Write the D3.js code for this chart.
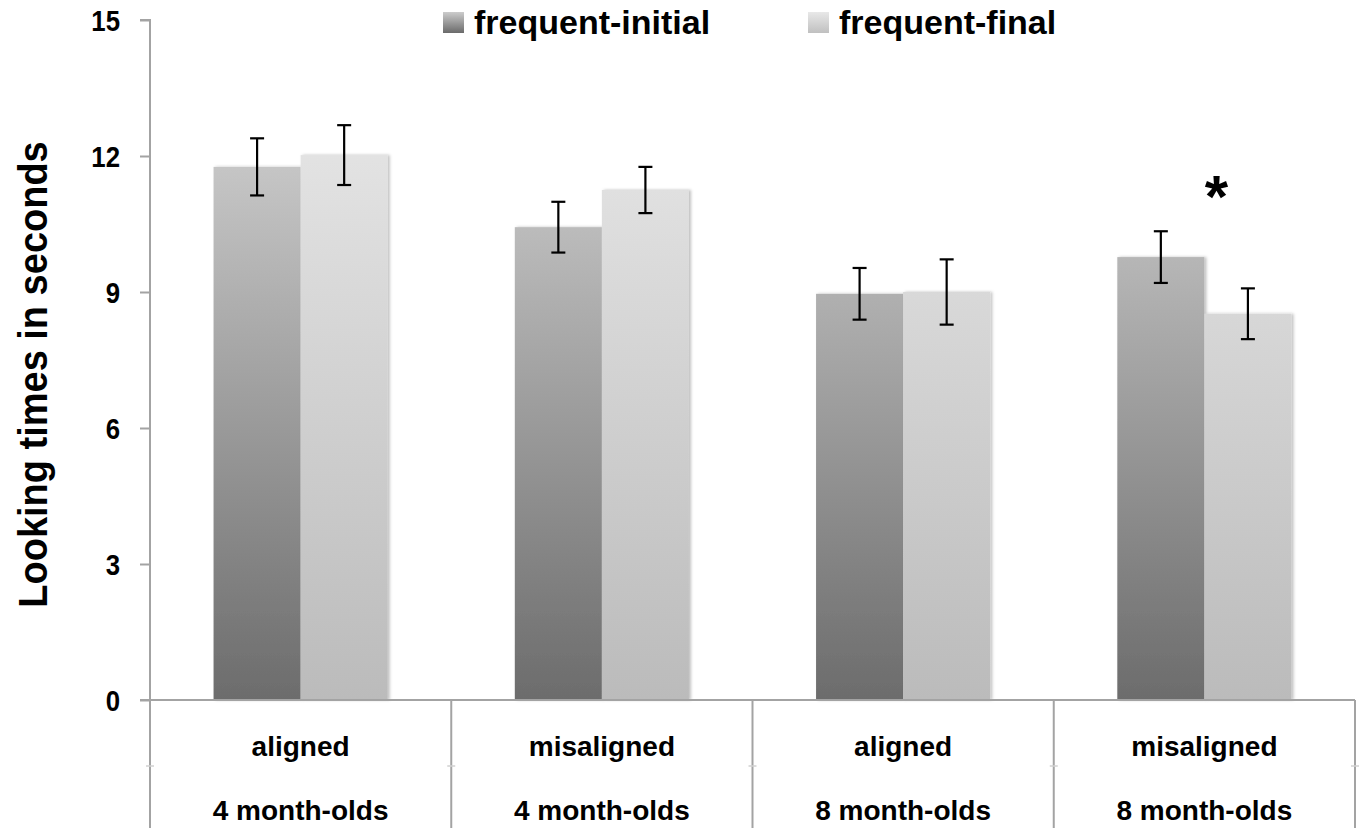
<!DOCTYPE html>
<html><head><meta charset="utf-8">
<script src="https://cdn.jsdelivr.net/npm/d3@7"></script>
<style>
html,body{margin:0;padding:0;background:#fff;}
svg{display:block;}
text{font-family:"Liberation Sans",Arial,Helvetica,sans-serif;font-weight:bold;fill:#000;}
</style></head>
<body>
<svg id="chart" width="1359" height="828"></svg>
<script>
const conditions = ["aligned","misaligned","aligned","misaligned"];
const ageGroups = ["4 month-olds","4 month-olds","8 month-olds","8 month-olds"];
const seriesNames = ["frequent-initial","frequent-final"];
const frequentInitial = [11.76, 10.43, 8.96, 9.77];
const frequentFinal   = [12.02, 11.25, 9.00, 8.52];
const errInitial = [0.63, 0.56, 0.57, 0.57];
const errFinal   = [0.66, 0.51, 0.72, 0.56];
const yTicks = [0, 3, 6, 9, 12, 15];
const significant = [false, false, false, true];

(function(){
const svg = d3.select("#chart");
const W = 1359, H = 828;
const mLeft = 150, mRight = 1355, mTop = 20, mBottom = 700;

const catIds = conditions.map((c,i)=>i);
const x = d3.scaleBand().domain(catIds).range([mLeft, mRight]).padding(0);
const xs = d3.scaleBand().domain(seriesNames).range([0, x.bandwidth()]).paddingInner(0).paddingOuter(0.73);
const y = d3.scaleLinear().domain([0, 15]).range([mBottom, mTop]);

const defs = svg.append("defs");
function grad(id, c0, c1, y0, y1, units){
  const g = defs.append("linearGradient").attr("id", id)
    .attr("x1",0).attr("x2",0);
  if(units){ g.attr("gradientUnits","userSpaceOnUse").attr("y1",y0).attr("y2",y1); }
  else { g.attr("y1",1).attr("y2",0); }
  g.append("stop").attr("offset","0%").attr("stop-color",c0);
  g.append("stop").attr("offset","100%").attr("stop-color",c1);
}
grad("gInit", "#6c6c6c", "#cbcbcb", mBottom, y(12.5), true);
grad("gFinal", "#bbbbbb", "#e4e4e4", mBottom, y(12.5), true);
grad("lInit", "#6a6a6a", "#cccccc", 0, 0, false);
grad("lFinal", "#c0c0c0", "#e8e8e8", 0, 0, false);
const f = defs.append("filter").attr("id","sh").attr("x","-10%").attr("y","-10%").attr("width","130%").attr("height","120%");
f.append("feDropShadow").attr("dx",2).attr("dy",0).attr("stdDeviation",1.5).attr("flood-color","#000").attr("flood-opacity",0.25);

// bars
const data = [];
catIds.forEach(i=>{
  data.push({i, s:seriesNames[0], v:frequentInitial[i], e:errInitial[i], fill:"url(#gInit)"});
  data.push({i, s:seriesNames[1], v:frequentFinal[i], e:errFinal[i], fill:"url(#gFinal)"});
});
svg.append("g").selectAll("rect").data(data).join("rect")
  .attr("x", d=>x(d.i)+xs(d.s))
  .attr("y", d=>y(d.v))
  .attr("width", xs.bandwidth())
  .attr("height", d=>y(0)-y(d.v))
  .attr("fill", d=>d.fill)
  .attr("filter","url(#sh)");

// error bars
const eb = svg.append("g").attr("stroke","#000").attr("stroke-width",2.2);
data.forEach(d=>{
  const cx = x(d.i)+xs(d.s)+xs.bandwidth()/2;
  eb.append("line").attr("x1",cx).attr("x2",cx).attr("y1",y(d.v+d.e)).attr("y2",y(d.v-d.e));
  eb.append("line").attr("x1",cx-7).attr("x2",cx+7).attr("y1",y(d.v+d.e)).attr("y2",y(d.v+d.e));
  eb.append("line").attr("x1",cx-7).attr("x2",cx+7).attr("y1",y(d.v-d.e)).attr("y2",y(d.v-d.e));
});

// significance asterisk
catIds.filter(i=>significant[i]).forEach(i=>{
  svg.append("text").attr("x", x(i)+x.bandwidth()/2+12).attr("y", y(10.65))
    .attr("text-anchor","middle").attr("font-size",60).text("*");
});

// y axis
const axisColor = "#a3a3a3";
const sx = 0.86;
const ya = svg.append("g").attr("transform",`translate(${mLeft},0)`)
  .call(d3.axisLeft(y).tickValues(yTicks).tickSize(10).tickPadding(20).tickFormat(d3.format("d")));
ya.attr("font-family",null).attr("font-size",null);
ya.select(".domain").attr("stroke",axisColor).attr("stroke-width",2).attr("d",`M-10,${y(15)}H0V${y(0)}`);
ya.selectAll(".tick line").attr("stroke",axisColor).attr("stroke-width",2);
ya.selectAll(".tick text").attr("font-size",30).attr("dy","0.35em")
  .attr("x", -30/sx).attr("transform",`scale(${sx},1)`);

// x axis / table
const xa = svg.append("g");
xa.append("line").attr("x1",mLeft-10).attr("x2",mRight).attr("y1",mBottom).attr("y2",mBottom)
  .attr("stroke",axisColor).attr("stroke-width",2);
const bounds = catIds.map(i=>x(i)).concat([mRight]);
bounds.forEach(b=>{
  xa.append("line").attr("x1",b).attr("x2",b).attr("y1",mBottom).attr("y2",H)
    .attr("stroke",axisColor).attr("stroke-width",2);
  xa.append("line").attr("x1",b-4).attr("x2",b+4).attr("y1",766).attr("y2",766)
    .attr("stroke","#d0d0d0").attr("stroke-width",1.5);
});
catIds.forEach(i=>{
  const cx = x(i)+x.bandwidth()/2;
  xa.append("text").attr("x",cx).attr("y",756).attr("text-anchor","middle").attr("font-size",28).text(conditions[i]);
  xa.append("text").attr("x",cx).attr("y",820).attr("text-anchor","middle").attr("font-size",28).text(ageGroups[i]);
});

// y title
svg.append("text").attr("transform",`translate(47,${(142+607)/2}) rotate(-90) scale(0.95,1)`)
  .attr("text-anchor","middle").attr("font-size",40).text("Looking times in seconds");

// legend
const legendX = [443, 808];
const legendFill = ["url(#lInit)","url(#lFinal)"];
seriesNames.forEach((s,k)=>{
  const g = svg.append("g").attr("transform",`translate(${legendX[k]},0)`);
  g.append("rect").attr("x",0).attr("y",12).attr("width",21).attr("height",21).attr("fill",legendFill[k]);
  g.append("text").attr("x",31).attr("y",34).attr("font-size",34).text(s);
});
})();
</script>
</body></html>
